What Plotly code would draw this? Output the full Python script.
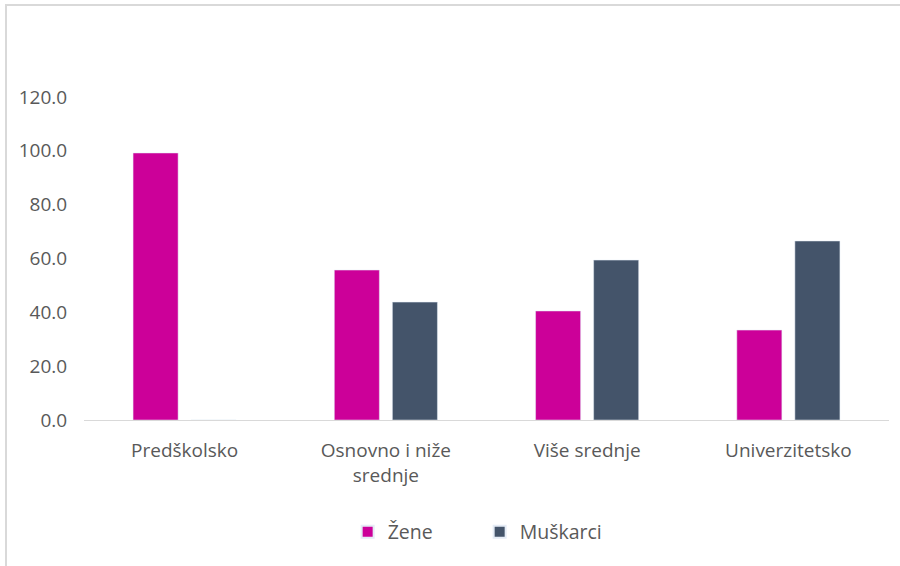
import plotly.graph_objects as go

categories = ["Predškolsko", "Osnovno i niže<br>srednje", "Više srednje", "Univerzitetsko"]
zene = [99.2, 55.7, 40.5, 33.4]
muskarci = [0.0, 43.8, 59.4, 66.5]
series_names = ["Žene", "Muškarci"]
tick_vals = [0, 20, 40, 60, 80, 100, 120]

FONT = "Open Sans"
GREY = "#595959"

fig = go.Figure()
fig.add_trace(go.Bar(x=categories, y=zene, name=series_names[0], marker_color="#CC0099"))
fig.add_trace(go.Bar(x=categories, y=muskarci, name=series_names[1], marker_color="#44546A"))

W, H = 900, 566
L, R, T, B = 84, 11, 97, 146
pw = W - L - R
ph = H - T - B

fig.update_layout(
    width=W, height=H,
    margin=dict(l=L, r=R, t=T, b=B, pad=0),
    paper_bgcolor="white", plot_bgcolor="white",
    barmode="group", bargap=0.423, bargroupgap=0.224,
    font=dict(family=FONT, color=GREY, size=18),
    showlegend=True,
    legend=dict(orientation="h", x=0.4915, xanchor="center",
                y=(420 - 532) / ph, yanchor="middle",
                font=dict(size=19.5, color=GREY, family=FONT),
                entrywidth=87, itemsizing="constant",
                bgcolor="rgba(0,0,0,0)"),
    xaxis=dict(showgrid=False, showline=True, linecolor="#d9d9d9", linewidth=1,
               ticks="outside", ticklen=13, tickcolor="rgba(0,0,0,0)",
               tickfont=dict(size=19, color=GREY, family=FONT), zeroline=False),
    yaxis=dict(range=[0, 120], tickvals=tick_vals, tickformat=".1f",
               showgrid=False, showline=False, zeroline=False,
               ticks="outside", ticklen=12, tickcolor="rgba(0,0,0,0)",
               tickfont=dict(size=19, color=GREY, family=FONT)),
    shapes=[dict(type="rect", xref="paper", yref="paper",
                 x0=(6 - L) / pw, x1=(1100 - L) / pw,
                 y0=(420 - 700) / ph, y1=(420 - 5) / ph,
                 line=dict(color="#d9d9d9", width=2), fillcolor="rgba(0,0,0,0)",
                 layer="below")],
)

fig.write_html("out.html", config={"displayModeBar": False},
               post_script="document.body.style.margin='0';document.body.style.overflow='hidden';")
